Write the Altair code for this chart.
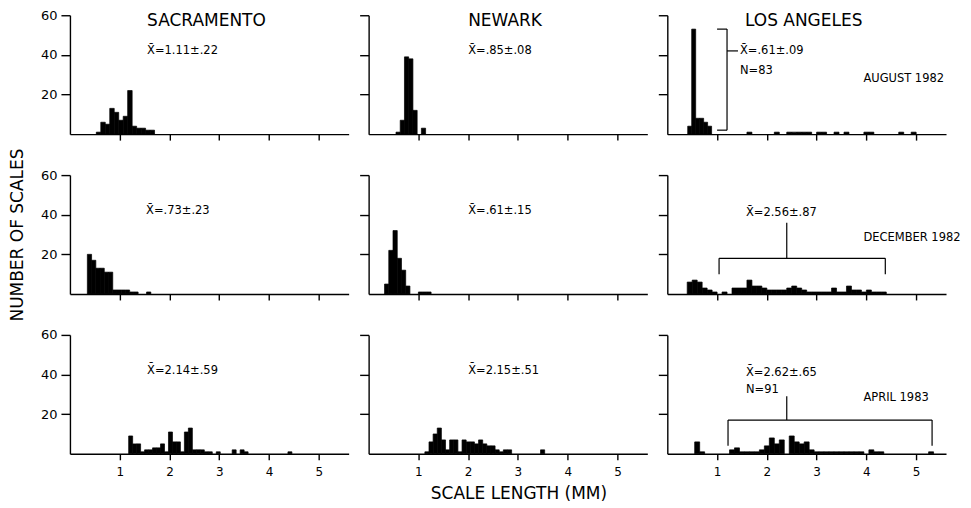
import altair as alt
import pandas as pd

FONT = "DejaVu Sans"

# ---------------- histogram data (first bin start in mm, bin width in mm, counts) ----------------
SAC_AUG_START, SAC_AUG_WIDTH = 0.53, 0.09
SAC_AUG = [1, 6, 5, 13, 11, 7, 9, 22, 4, 3, 3, 2, 2]

NEW_AUG_START, NEW_AUG_WIDTH = 0.55, 0.085
NEW_AUG = [1, 7, 39, 38, 12, 0, 3]

LA_AUG_START, LA_AUG_WIDTH = 0.41, 0.08
LA_AUG = [4, 53, 8, 8, 6, 4]
LA_AUG_TAIL_STARTS = [1.6, 2.15, 2.4, 2.5, 2.6, 2.7, 2.8, 3.0, 3.1, 3.35, 3.55, 3.95, 4.05, 4.65, 4.9]
LA_AUG_TAIL_WIDTH = 0.1
LA_AUG_TAIL = [1, 1, 1, 1, 1, 1, 1, 1, 1, 1, 1, 1, 1, 1, 1]

SAC_DEC_START, SAC_DEC_WIDTH = 0.35, 0.085
SAC_DEC = [20, 17, 13, 13, 11, 11, 2, 2, 2, 2, 1, 1, 0, 0, 1]

NEW_DEC_START, NEW_DEC_WIDTH = 0.32, 0.085
NEW_DEC = [5, 22, 32, 18, 12, 4, 0, 0, 1, 1, 1]

LA_DEC_START, LA_DEC_WIDTH = 0.40, 0.1
LA_DEC = [6, 7, 6, 3, 2, 1, 0, 1, 0, 3, 3, 3, 7, 4, 4, 3, 2, 2, 2, 2,
          3, 4, 3, 2, 1, 1, 1, 1, 1, 3, 1, 1, 4, 2, 2, 1, 2, 1, 1, 1]

SAC_APR_START, SAC_APR_WIDTH = 1.18, 0.08
SAC_APR = [9, 5, 5, 1, 2, 2, 3, 3, 5, 1, 11, 6, 6, 1, 11, 13, 2, 2, 2, 1,
           1, 0, 1, 0, 0, 0, 2, 0, 2, 1, 0, 0, 0, 0, 0, 0, 0, 0, 0, 0, 1]

NEW_APR_START, NEW_APR_WIDTH = 1.13, 0.083
NEW_APR = [1, 6, 10, 13, 7, 2, 7, 7, 1, 7, 6, 6, 5, 7, 5, 4, 4, 2, 1, 2,
           2, 0, 0, 0, 0, 0, 0, 0, 2]

LA_APR_START, LA_APR_WIDTH = 0.55, 0.1
LA_APR = [6, 1, 0, 0, 0, 0, 0, 2, 3, 1, 1, 1, 1, 2, 4, 8, 5, 7, 0, 9,
          6, 5, 6, 2, 1, 1, 1, 1, 1, 1, 1, 1, 1, 1, 0, 2, 1, 1, 0, 0,
          0, 0, 0, 0, 0, 0, 0, 1]

# ---------------- text ----------------
CITIES = ["SACRAMENTO", "NEWARK", "LOS ANGELES"]
CITY_X = [1.55, 2.0, 1.56]
CITY_Y = 57
MONTHS = ["AUGUST 1982", "DECEMBER 1982", "APRIL 1983"]
MONTH_X, MONTH_Y = 3.94, 28
STATS = [["X\u0304=1.11\u00b1.22", "X\u0304=.85\u00b1.08", "X\u0304=.61\u00b1.09"],
         ["X\u0304=.73\u00b1.23", "X\u0304=.61\u00b1.15", "X\u0304=2.56\u00b1.87"],
         ["X\u0304=2.14\u00b1.59", "X\u0304=2.15\u00b1.51", "X\u0304=2.62\u00b1.65"]]
STATS_X = [[1.55, 2.0, 1.46], [1.53, 2.0, 1.58], [1.55, 2.0, 1.58]]
STATS_Y = [[42, 42, 42], [42, 42, 41], [42, 42, 41]]
N_LABELS = {0: ("N=83", 1.46, 32), 2: ("N=91", 1.58, 32)}

# brackets for Los Angeles panels: (x, y, x2, y2) in data units
BRACKETS = {
    0: [(1.0, 53, 1.2, 53), (1.2, 53, 1.2, 2), (1.0, 2, 1.2, 2), (1.2, 42, 1.42, 42)],
    1: [(1.04, 18, 4.38, 18), (1.04, 18, 1.04, 10), (4.38, 18, 4.38, 10), (2.4, 18, 2.4, 36)],
    2: [(1.22, 17, 5.32, 17), (1.22, 17, 1.22, 4), (5.32, 17, 5.32, 4), (2.4, 17, 2.4, 29)],
}

X_TICKS = [1, 2, 3, 4, 5]
Y_TICKS = [20, 40, 60]
X_DOMAIN = [0, 5.6]
Y_DOMAIN = [0, 60]


def bin_rows(start, width, counts):
    rows = []
    for i, c in enumerate(counts):
        if c > 0:
            x0 = start + i * width
            rows.append({"x0": x0, "x1": x0 + width, "n": c})
    return rows


def tail_rows(starts, width, counts):
    return [{"x0": s, "x1": s + width, "n": c} for s, c in zip(starts, counts)]


HISTS = [
    [bin_rows(SAC_AUG_START, SAC_AUG_WIDTH, SAC_AUG),
     bin_rows(NEW_AUG_START, NEW_AUG_WIDTH, NEW_AUG),
     bin_rows(LA_AUG_START, LA_AUG_WIDTH, LA_AUG) + tail_rows(LA_AUG_TAIL_STARTS, LA_AUG_TAIL_WIDTH, LA_AUG_TAIL)],
    [bin_rows(SAC_DEC_START, SAC_DEC_WIDTH, SAC_DEC),
     bin_rows(NEW_DEC_START, NEW_DEC_WIDTH, NEW_DEC),
     bin_rows(LA_DEC_START, LA_DEC_WIDTH, LA_DEC)],
    [bin_rows(SAC_APR_START, SAC_APR_WIDTH, SAC_APR),
     bin_rows(NEW_APR_START, NEW_APR_WIDTH, NEW_APR),
     bin_rows(LA_APR_START, LA_APR_WIDTH, LA_APR)],
]

W, H = 279, 119


def make_panel(r, c):
    xs = alt.Scale(domain=X_DOMAIN, nice=False, zero=False)
    ys = alt.Scale(domain=Y_DOMAIN, nice=False)
    x_title = "SCALE LENGTH (MM)" if (r == 2 and c == 1) else None
    y_title = "NUMBER OF SCALES" if (r == 1 and c == 0) else None
    x_axis = alt.Axis(values=X_TICKS, labels=(r == 2), grid=False, tickSize=6, tickWidth=1.4,
                      tickColor="black", domainColor="black", domainWidth=1.4,
                      labelFont=FONT, labelFontSize=12, labelColor="black", labelPadding=7,
                      title=x_title, titleFont=FONT, titleFontSize=17, titleFontWeight="normal",
                      titleColor="black", titlePadding=8, titleX=150)
    y_axis = alt.Axis(values=Y_TICKS, labels=(c == 0), grid=False, tickSize=9, tickWidth=1.4,
                      tickColor="black", domainColor="black", domainWidth=1.4,
                      labelFont=FONT, labelFontSize=13, labelColor="black", labelPadding=4,
                      title=y_title, titleFont=FONT, titleFontSize=17, titleFontWeight="normal",
                      titleColor="black", titlePadding=14)

    bars = alt.Chart(pd.DataFrame(HISTS[r][c])).mark_bar(
        color="black", stroke="black", strokeWidth=0.7
    ).encode(
        x=alt.X("x0:Q", scale=xs, axis=x_axis),
        x2="x1:Q",
        y=alt.Y("n:Q", scale=ys, axis=y_axis),
        y2=alt.datum(0),
    )
    layers = [bars]

    texts = []
    if r == 0:
        texts.append({"x": CITY_X[c], "y": CITY_Y, "t": CITIES[c], "fs": 17})
    texts.append({"x": STATS_X[r][c], "y": STATS_Y[r][c], "t": STATS[r][c], "fs": 11.5})
    if c == 2:
        texts.append({"x": MONTH_X, "y": MONTH_Y, "t": MONTHS[r], "fs": 11.5})
        if r in N_LABELS:
            lab, nx, ny = N_LABELS[r]
            texts.append({"x": nx, "y": ny, "t": lab, "fs": 11.5})
    txt = alt.Chart(pd.DataFrame(texts)).mark_text(
        align="left", baseline="middle", font=FONT, color="black"
    ).encode(
        x=alt.X("x:Q", scale=xs, axis=x_axis),
        y=alt.Y("y:Q", scale=ys, axis=y_axis),
        text="t:N",
        size=alt.Size("fs:Q", scale=None, legend=None),
    )
    layers.append(txt)

    if c == 2:
        seg = pd.DataFrame([{"x": a, "y": b, "x2": cc, "y2": d} for a, b, cc, d in BRACKETS[r]])
        rules = alt.Chart(seg).mark_rule(color="black", strokeWidth=1.2).encode(
            x=alt.X("x:Q", scale=xs, axis=x_axis),
            y=alt.Y("y:Q", scale=ys, axis=y_axis),
            x2="x2:Q",
            y2="y2:Q",
        )
        layers.append(rules)

    return alt.layer(*layers).properties(width=W, height=H)


panels = [make_panel(r, c) for r in range(3) for c in range(3)]

chart = alt.concat(
    *panels, columns=3, spacing={"row": 41, "column": 20}, bounds="flush"
).properties(
    padding={"left": 0, "top": 1, "right": 2, "bottom": 2},
    background="white",
).configure_view(stroke=None)

chart.save("out.html", embed_options={"renderer": "svg", "actions": False})
